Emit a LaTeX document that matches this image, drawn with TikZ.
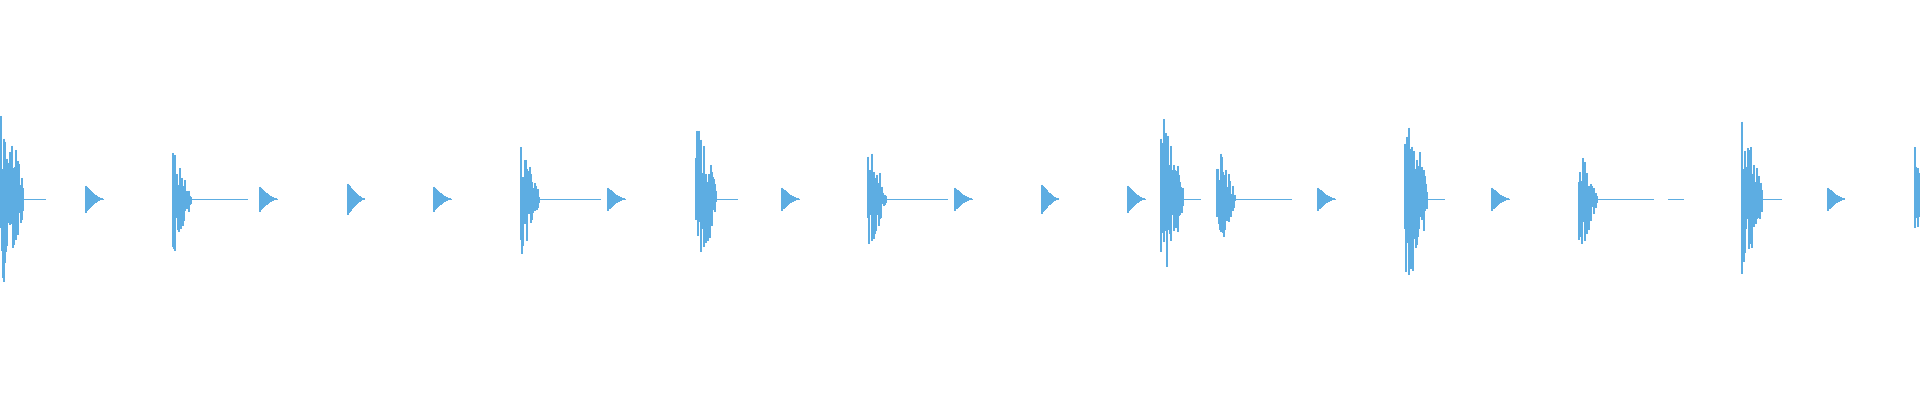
\documentclass[tikz,border=0pt]{standalone}
\definecolor{wave}{RGB}{93,173,226}
\begin{document}
\begin{tikzpicture}[x=1pt,y=-1pt,wv/.style={draw=wave,line width=1.1pt},tl/.style={draw=wave,line width=0.7pt}]
\useasboundingbox (0,0) rectangle (1920,400);
\pgfmathsetseed{7}
% x / amplitude / width / randomness / tail / exponent
\foreach \x/\a/\w/\r/\t/\p in {1/92/22/0.8/45/0.6, 86/13/16/0/18/1.6, 173/56/18/0.8/75/0.8, 260/12/16/0/18/1.6, 348/15/16/0/16/1.6, 434/12/16/0/18/1.6, 521/58/18/0.8/80/0.8, 608/11/16/0/18/1.6, 696/76/20/0.8/42/0.6, 782/11/16/0/18/1.6, 868/58/18/0.8/80/0.8, 955/11/16/0/18/1.6, 1042/14/16/0/14/1.6, 1128/13/16/0/18/1.6, 1161/90/22/0.8/40/0.6, 1217/56/18/0.8/75/0.8, 1318/11/16/0/18/1.6, 1405/92/22/0.8/40/0.6, 1492/11/16/0/18/1.6, 1579/56/18/0.8/75/0.8, 1742/77/20/0.8/40/0.6, 1828/11/16/0/16/1.6, 1915/52/5/0.8/5/0.6}{
  \draw[tl] (\x,199) -- ++(\t,0);
  \foreach \i in {0,...,\w}{
    \pgfmathsetmacro\env{(1-\i/(\w+1))^\p}
    \pgfmathsetmacro\h{\a*(1-\r+\r*rnd)*\env}
    \pgfmathsetmacro\hb{\a*(1-\r+\r*rnd)*\env}
    \pgfmathsetmacro\hc{\a*0.45*(1-\r*0.5)*\env*\env+0.5}
    \draw[wv] (\x+\i,199-\h-0.5) -- (\x+\i,199+\hb+0.5);
    \draw[wv] (\x+\i,199-\hc) -- (\x+\i,199+\hc);
  }
}
\draw[tl] (1668,199) -- (1684,199);
\end{tikzpicture}
\end{document}
